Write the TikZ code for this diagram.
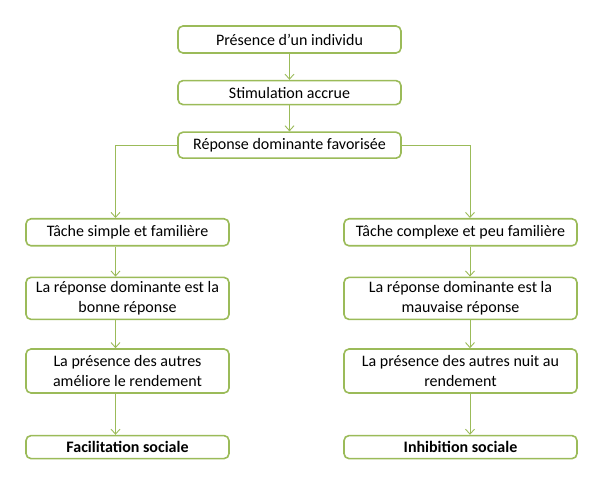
\documentclass[tikz,border=0pt]{standalone}
\usepackage{fontspec}
\setmainfont{Carlito}
\usetikzlibrary{positioning, arrows.meta}
\definecolor{olivegreen}{HTML}{9BBB59}

\begin{document}
\begin{tikzpicture}[
    node distance=26pt, font=\fontsize{16}{19.5}\selectfont,
    box/.style={draw=olivegreen, line width=1.6pt, rounded corners=5pt, fill=white, align=center, inner sep=3pt},
    midbox/.style={box, minimum width=223pt},
    leftbox/.style={box, minimum width=203pt},
    rightbox/.style={box, minimum width=233pt},
    >={Straight Barb[length=5pt, width=9pt]}, arr/.style={->, draw=olivegreen, line width=0.9pt},
  ]
    \useasboundingbox (0,0) rectangle (598pt,-478pt);
    % central chain
    \node[midbox, minimum height=27pt] (presence) at (289.5pt,-39.5pt) {Présence d’un individu};
    \node[midbox, minimum height=24pt, below=of presence] (stim) {Stimulation accrue};
    \node[midbox, minimum height=26pt, below=of stim] (favor) {Réponse dominante favorisée};
    % left branch
    \node[leftbox, minimum height=27pt, below=59pt of favor, xshift=-162pt] (simple) {Tâche simple et familière};
    \node[leftbox, minimum height=42pt, below=30pt of simple] (bonne) {La réponse dominante est la\\bonne réponse};
    \node[leftbox, minimum height=44pt, below=28pt of bonne] (ameliore) {La présence des autres\\améliore le rendement};
    \node[leftbox, minimum height=23pt, below=41pt of ameliore] (facil) {\textbf{Facilitation sociale}};
    % right branch
    \node[rightbox, minimum height=27pt, below=59pt of favor, xshift=171pt] (complexe) {Tâche complexe et peu familière};
    \node[rightbox, minimum height=42pt, below=30pt of complexe] (mauvaise) {La réponse dominante est la\\mauvaise réponse};
    \node[rightbox, minimum height=44pt, below=28pt of mauvaise] (nuit) {La présence des autres nuit au\\rendement};
    \node[rightbox, minimum height=23pt, below=41pt of nuit] (inhib) {\textbf{Inhibition sociale}};
    \draw[arr] (presence) -- (stim);
    \draw[arr] (stim) -- (favor);
    \draw[arr] (favor.west) -| ([xshift=-12pt]simple.north);
    \draw[arr] (favor.east) -| ([xshift=9.5pt]complexe.north);
    \draw[arr] ([xshift=-12pt]simple.south) -- ([xshift=-12pt]bonne.north);
    \draw[arr] ([xshift=-12pt]bonne.south) -- ([xshift=-12pt]ameliore.north);
    \draw[arr] ([xshift=-12pt]ameliore.south) -- ([xshift=-12pt]facil.north);
    \draw[arr] ([xshift=9.5pt]complexe.south) -- ([xshift=9.5pt]mauvaise.north);
    \draw[arr] ([xshift=9.5pt]mauvaise.south) -- ([xshift=9.5pt]nuit.north);
    \draw[arr] ([xshift=9.5pt]nuit.south) -- ([xshift=9.5pt]inhib.north);
  \end{tikzpicture}
\end{document}
